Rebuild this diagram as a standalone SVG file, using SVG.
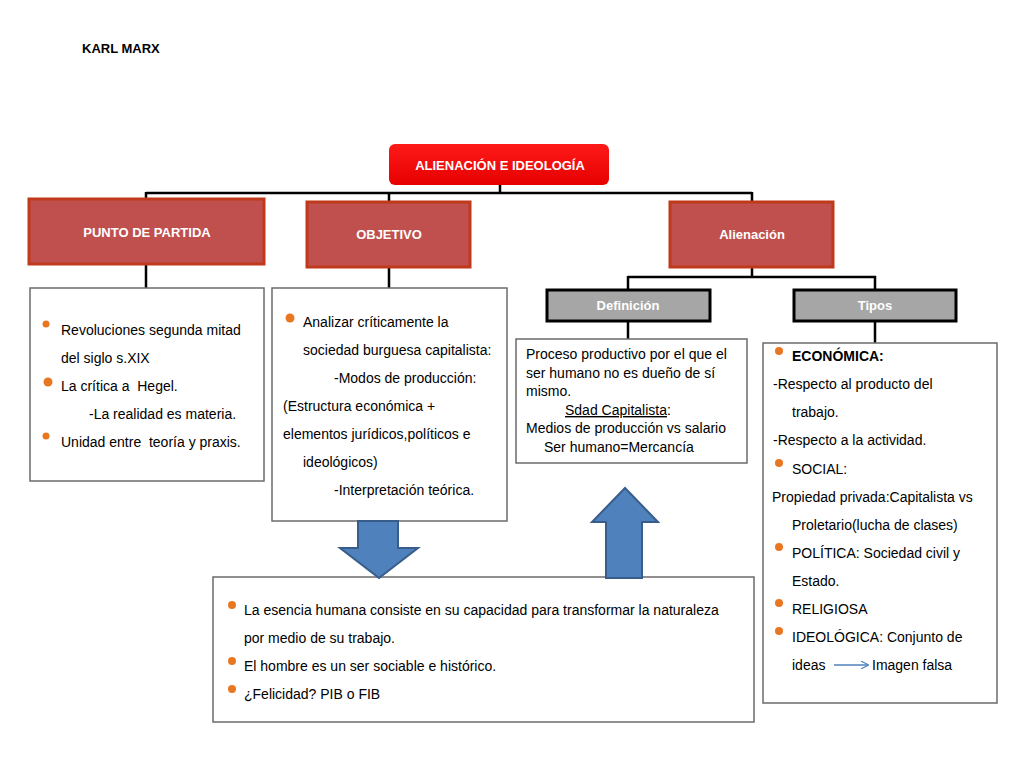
<svg xmlns="http://www.w3.org/2000/svg" width="1024" height="768" viewBox="0 0 1024 768">
<defs>
<style>
text{font-family:"Liberation Sans",Arial,sans-serif;font-size:14px;fill:#000;white-space:pre}
.hd{font-weight:bold;fill:#fff;font-size:13px;text-anchor:middle}
.red{fill:#C0504D;stroke:#C0391B;stroke-width:3}
.grey{fill:#A6A6A6;stroke:#000;stroke-width:3}
.box{fill:#fff;stroke:#6b6b6b;stroke-width:1.5}
.con{fill:none;stroke:#000;stroke-width:2.5}
.dot{fill:#E87722}
.big{fill:#4F81BD;stroke:#385D8A;stroke-width:2}
</style>
<linearGradient id="rg" x1="0" y1="0" x2="0" y2="1">
<stop offset="0" stop-color="#FF1A1A"/><stop offset="1" stop-color="#E60000"/>
</linearGradient>
<marker id="ah" viewBox="0 0 10 10" refX="9" refY="5" markerWidth="8" markerHeight="8" markerUnits="userSpaceOnUse" orient="auto">
<path d="M0,0 L10,5 L0,10" fill="none" stroke="#4F81BD" stroke-width="1.5"/>
</marker>
</defs>
<rect width="1024" height="768" fill="#fff"/>
<text x="82" y="53" style="font-weight:bold;font-size:13px">KARL MARX</text>

<g id="connectors">
<path class="con" d="M500,185 V193 M146,193 H752 M146,192 V199 M389,192 V202 M752,192 V201"/>
<path class="con" d="M146,264 V288 M389,267 V288"/>
<path class="con" d="M752,267 V277 M628,277 H876 M628,276 V290 M875,276 V290"/>
<path class="con" d="M628,321 V339 M875,321 V343"/>
</g>

<g id="n-top">
<rect x="389" y="144" width="220" height="41" rx="6" fill="url(#rg)"/>
<text class="hd" x="500" y="170">ALIENACIÓN E IDEOLOGÍA</text>
</g>
<g id="n-punto">
<rect class="red" x="29" y="199" width="235" height="65"/>
<text class="hd" x="147" y="237">PUNTO DE PARTIDA</text>
</g>
<g id="n-objetivo">
<rect class="red" x="307" y="202" width="163" height="65"/>
<text class="hd" x="389" y="239">OBJETIVO</text>
</g>
<g id="n-alienacion">
<rect class="red" x="670" y="202" width="163" height="65"/>
<text class="hd" x="752" y="239">Alienación</text>
</g>
<g id="n-definicion">
<rect class="grey" x="547" y="290" width="163" height="31"/>
<text class="hd" x="628" y="310">Definición</text>
</g>
<g id="n-tipos">
<rect class="grey" x="794" y="290" width="162" height="31"/>
<text class="hd" x="875" y="310">Tipos</text>
</g>

<g id="n-box1">
<rect class="box" x="30" y="288" width="234" height="193"/>
<circle class="dot" cx="46" cy="324" r="3.5"/>
<text x="61" y="335">Revoluciones segunda mitad</text>
<text x="61" y="363">del siglo s.XIX</text>
<circle class="dot" cx="48" cy="382" r="4.5"/>
<text x="61" y="391">La crítica a  Hegel.</text>
<text x="89" y="419">-La realidad es materia.</text>
<circle class="dot" cx="46" cy="436" r="3.5"/>
<text x="61" y="447">Unidad entre  teoría y praxis.</text>
</g>

<g id="n-box2">
<rect class="box" x="272" y="288" width="235" height="233"/>
<circle class="dot" cx="290" cy="318" r="4.5"/>
<text x="303" y="327">Analizar críticamente la</text>
<text x="303" y="355">sociedad burguesa capitalista:</text>
<text x="334" y="383">-Modos de producción:</text>
<text x="283" y="411">(Estructura económica +</text>
<text x="283" y="439">elementos jurídicos,políticos e</text>
<text x="303" y="467">ideológicos)</text>
<text x="334" y="495">-Interpretación teórica.</text>
</g>

<g id="n-def">
<rect class="box" x="516" y="339" width="231" height="124"/>
<text x="526" y="359">Proceso productivo por el que el</text>
<text x="526" y="378">ser humano no es dueño de sí</text>
<text x="526" y="396">mismo.</text>
<text x="565" y="415"><tspan text-decoration="underline">Sdad Capitalista</tspan>:</text>
<text x="526" y="433">Medios de producción vs salario</text>
<text x="544" y="452">Ser humano=Mercancía</text>
</g>

<g id="n-tiposbox">
<rect class="box" x="763" y="343" width="234" height="360"/>
<circle class="dot" cx="779" cy="351" r="4"/>
<text x="792" y="361" style="font-weight:bold">ECONÓMICA:</text>
<text x="773" y="389">-Respecto al producto del</text>
<text x="792" y="417">trabajo.</text>
<text x="773" y="445">-Respecto a la actividad.</text>
<circle class="dot" cx="779" cy="463" r="4"/>
<text x="792" y="474">SOCIAL:</text>
<text x="772" y="502">Propiedad privada:Capitalista vs</text>
<text x="792" y="530">Proletario(lucha de clases)</text>
<circle class="dot" cx="779" cy="547" r="4"/>
<text x="792" y="558">POLÍTICA: Sociedad civil y</text>
<text x="792" y="586">Estado.</text>
<circle class="dot" cx="779" cy="603" r="4"/>
<text x="792" y="614">RELIGIOSA</text>
<circle class="dot" cx="779" cy="631" r="4"/>
<text x="792" y="642">IDEOLÓGICA: Conjunto de</text>
<text x="792" y="670">ideas</text>
<line x1="834" y1="665" x2="868" y2="665" stroke="#4F81BD" stroke-width="1.5" marker-end="url(#ah)"/>
<text x="872" y="670">Imagen falsa</text>
</g>

<g id="n-bottom">
<rect class="box" x="213" y="577" width="541" height="145"/>
<circle class="dot" cx="232" cy="605" r="4"/>
<text x="244" y="615">La esencia humana consiste en su capacidad para transformar la naturaleza</text>
<text x="244" y="643">por medio de su trabajo.</text>
<circle class="dot" cx="232" cy="661" r="4"/>
<text x="244" y="671">El hombre es un ser sociable e histórico.</text>
<circle class="dot" cx="232" cy="689" r="4"/>
<text x="244" y="699">¿Felicidad? PIB o FIB</text>
</g>

<g id="arrow-down">
<path class="big" d="M358,521 H398 V548 H418 L379,578 L340,548 H358 Z"/>
</g>
<g id="arrow-up">
<path class="big" d="M606,578 V522 H592 L625,488 L658,522 H642 V578 Z"/>
</g>
</svg>
